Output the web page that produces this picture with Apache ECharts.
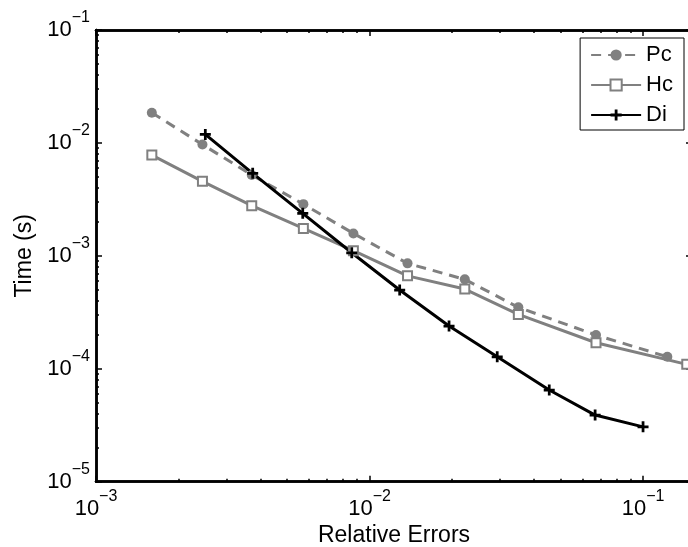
<!DOCTYPE html>
<html>
<head>
<meta charset="utf-8">
<script src="https://cdn.jsdelivr.net/npm/echarts@6/dist/echarts.min.js"></script>
<style>html,body{margin:0;padding:0;background:#fff}#c{width:688px;height:547px}</style>
</head>
<body>
<div id="c"></div>
<script>
// ---- data ----
var seriesNames = ['Pc', 'Hc', 'Di'];
var xPc = [0.0016, 0.00245, 0.00371, 0.00573, 0.00873, 0.01377, 0.0223, 0.0350, 0.0673, 0.1227];
var yPc = [0.0185, 0.00968, 0.0052, 0.00287, 0.00158, 0.000858, 0.000619, 0.00035, 0.000199, 0.0001277];
var xHc = [0.0016, 0.00245, 0.00371, 0.00573, 0.00873, 0.01377, 0.0223, 0.0350, 0.0673, 0.1445];
var yHc = [0.00781, 0.00457, 0.00278, 0.00175, 0.00111, 0.000665, 0.000508, 0.000303, 0.00017, 0.0001094];
var xDi = [0.00251, 0.00374, 0.0057, 0.00861, 0.01289, 0.01953, 0.0293, 0.0454, 0.0668, 0.1];
var yDi = [0.0119, 0.00538, 0.00238, 0.001065, 0.000498, 0.000239, 0.0001277, 0.0000648, 0.0000389, 0.0000306];

var xMajorTicks = [0.001, 0.01, 0.1];
var xMinorTicks = [0.002, 0.003, 0.004, 0.005, 0.006, 0.007, 0.008, 0.009,
                   0.02, 0.03, 0.04, 0.05, 0.06, 0.07, 0.08, 0.09];
var yMajorTicks = [0.00001, 0.0001, 0.001, 0.01, 0.1];
var yMinorTicks = [0.00002, 0.00003, 0.00004, 0.00005, 0.00006, 0.00007, 0.00008, 0.00009,
                   0.0002, 0.0003, 0.0004, 0.0005, 0.0006, 0.0007, 0.0008, 0.0009,
                   0.002, 0.003, 0.004, 0.005, 0.006, 0.007, 0.008, 0.009,
                   0.02, 0.03, 0.04, 0.05, 0.06, 0.07, 0.08, 0.09];
var xMin = 0.001, xMax = 0.151;
var yMin = 0.00001, yMax = 0.1;
var xTitle = 'Relative Errors';
var yTitle = 'Time (s)';

function pairs(xs, ys) { return xs.map(function (x, i) { return [x, ys[i]]; }); }

var FONT = '"Liberation Sans", Arial, Helvetica, sans-serif';
var GRAY = '#808080';

function fmt(v) {
  var e = Math.round(Math.log10(v));
  return '{b|10}{s|' + (e < 0 ? '\u2212' + (-e) : e) + '}';
}
var rich = {
  b: { fontSize: 22, lineHeight: 40, fontFamily: FONT, color: '#000', verticalAlign: 'middle' },
  s: { fontSize: 16, lineHeight: 16, fontFamily: FONT, color: '#000', verticalAlign: 'top' }
};

function axisBase(type, pos, min, max, ticks, len, withLabel) {
  var a = {
    type: 'log', logBase: 10, position: pos, min: min, max: max,
    splitLine: { show: false },
    axisLine: { show: true, onZero: false, lineStyle: { color: '#000', width: 2.5 } },
    axisTick: { show: true, inside: true, length: len, customValues: ticks, lineStyle: { color: '#000', width: 1.5 } },
    axisLabel: { show: false }
  };
  if (withLabel) {
    a.axisLabel = { show: true, customValues: ticks, formatter: fmt, rich: rich, margin: type === 'x' ? 7 : 6 };
  }
  return a;
}

var xa0 = axisBase('x', 'bottom', xMin, xMax, xMajorTicks, 6, true);
xa0.name = xTitle; xa0.nameLocation = 'middle'; xa0.nameGap = 37;
xa0.nameTextStyle = { fontSize: 23, fontFamily: FONT, color: '#000' };
var ya0 = axisBase('y', 'left', yMin, yMax, yMajorTicks, 6, true);
ya0.name = yTitle; ya0.nameLocation = 'middle'; ya0.nameGap = 60;
ya0.nameTextStyle = { fontSize: 23, fontFamily: FONT, color: '#000' };

var option = {
  animation: false,
  backgroundColor: '#fff',
  grid: { left: 96, top: 30, right: -4, bottom: 65.3, containLabel: false, outerBoundsMode: 'none' },
  xAxis: [
    xa0,
    axisBase('x', 'bottom', xMin, xMax, xMinorTicks, 3, false),
    axisBase('x', 'top', xMin, xMax, xMajorTicks, 6, false),
    axisBase('x', 'top', xMin, xMax, xMinorTicks, 3, false)
  ],
  yAxis: [
    ya0,
    axisBase('y', 'left', yMin, yMax, yMinorTicks, 3, false),
    axisBase('y', 'right', yMin, yMax, yMajorTicks, 6, false),
    axisBase('y', 'right', yMin, yMax, yMinorTicks, 3, false)
  ],
  legend: {
    right: 4, top: 38,
    orient: 'vertical',
    itemWidth: 50, itemHeight: 14, itemGap: 6,
    padding: [5, 11, 3, 10],
    borderColor: '#000', borderWidth: 1, borderRadius: 0,
    backgroundColor: '#fff',
    textStyle: { fontSize: 22, lineHeight: 24, fontFamily: FONT, color: '#000' },
    data: seriesNames
  },
  series: [
    {
      name: seriesNames[0], type: 'line', data: pairs(xPc, yPc),
      symbol: 'circle', symbolSize: 10,
      lineStyle: { color: GRAY, width: 3, type: [10, 7] },
      itemStyle: { color: GRAY }
    },
    {
      name: seriesNames[1], type: 'line', data: pairs(xHc, yHc),
      symbol: 'emptyRect', symbolSize: 9,
      lineStyle: { color: GRAY, width: 3 },
      itemStyle: { color: GRAY, borderColor: GRAY, borderWidth: 2.5 }
    },
    {
      name: seriesNames[2], type: 'line', data: pairs(xDi, yDi),
      symbol: 'path://M-1.5,-6H1.5V-1.5H6V1.5H1.5V6H-1.5V1.5H-6V-1.5H-1.5Z', symbolSize: 11,
      lineStyle: { color: '#000', width: 3 },
      itemStyle: { color: '#000' }
    }
  ]
};

var chart = echarts.init(document.getElementById('c'), null, { renderer: 'canvas' });
chart.setOption(option);
</script>
</body>
</html>
